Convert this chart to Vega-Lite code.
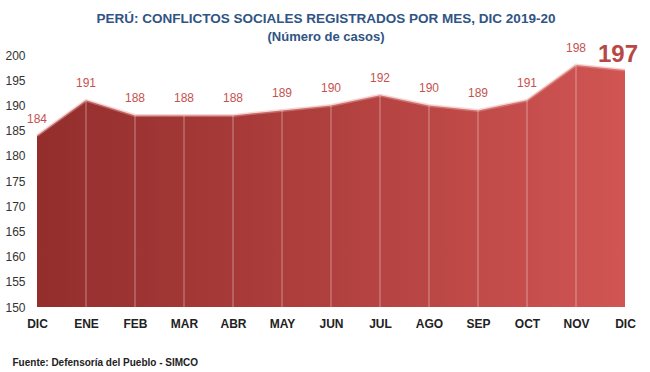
{
  "$schema": "https://vega.github.io/schema/vega-lite/v6.json",
  "width": 588,
  "height": 252,
  "autosize": {"type": "none"},
  "padding": {"left": 37, "top": 55, "right": 25, "bottom": 65},
  "background": "white",
  "config": {"view": {"stroke": null}, "font": "Liberation Sans, Arial, sans-serif"},
  "title": {
    "text": "PERÚ: CONFLICTOS SOCIALES REGISTRADOS POR MES, DIC 2019-20",
    "subtitle": "(Número de casos)",
    "anchor": "middle",
    "frame": "group",
    "font": "Liberation Sans, Arial, sans-serif",
    "subtitleFont": "Liberation Sans, Arial, sans-serif",
    "fontSize": 13.5,
    "subtitleFontSize": 13,
    "fontWeight": "bold",
    "subtitleFontWeight": "bold",
    "color": "#2F5485",
    "subtitleColor": "#2F5485",
    "offset": -2,
    "subtitlePadding": 6,
    "dx": -5
  },
  "data": {
    "values": [
      {"i": 0, "mes": "DIC", "casos": 184},
      {"i": 1, "mes": "ENE", "casos": 191},
      {"i": 2, "mes": "FEB", "casos": 188},
      {"i": 3, "mes": "MAR", "casos": 188},
      {"i": 4, "mes": "ABR", "casos": 188},
      {"i": 5, "mes": "MAY", "casos": 189},
      {"i": 6, "mes": "JUN", "casos": 190},
      {"i": 7, "mes": "JUL", "casos": 192},
      {"i": 8, "mes": "AGO", "casos": 190},
      {"i": 9, "mes": "SEP", "casos": 189},
      {"i": 10, "mes": "OCT", "casos": 191},
      {"i": 11, "mes": "NOV", "casos": 198},
      {"i": 12, "mes": "DIC", "casos": 197}
    ]
  },
  "encoding": {
    "x": {
      "field": "i",
      "type": "quantitative",
      "scale": {"domain": [0, 12], "nice": false, "zero": false},
      "axis": {
        "values": [0,1,2,3,4,5,6,7,8,9,10,11,12],
        "labelExpr": "['DIC','ENE','FEB','MAR','ABR','MAY','JUN','JUL','AGO','SEP','OCT','NOV','DIC'][datum.value]",
        "grid": false,
        "domain": false,
        "ticks": false,
        "labelPadding": 11,
        "labelFontSize": 12,
        "labelFontWeight": "bold",
        "labelColor": "#222222",
        "labelFont": "Liberation Sans, Arial, sans-serif",
        "labelFlush": false,
        "title": "Fuente: Defensoría del Pueblo - SIMCO",
        "titleAnchor": "start",
        "titleAlign": "left",
        "titleX": -25,
        "titleY": 55,
        "titleBaseline": "middle",
        "titleFontSize": 10,
        "titleFontWeight": "bold",
        "titleColor": "#222222",
        "titleFont": "Liberation Sans, Arial, sans-serif"
      }
    },
    "y": {
      "field": "casos",
      "type": "quantitative",
      "scale": {"domain": [150, 200], "nice": false, "zero": false},
      "axis": {
        "values": [150,155,160,165,170,175,180,185,190,195,200],
        "grid": false,
        "domain": false,
        "ticks": false,
        "labelPadding": 12,
        "labelFontSize": 12,
        "labelColor": "#333333",
        "labelFont": "Liberation Sans, Arial, sans-serif",
        "title": null
      }
    }
  },
  "layer": [
    {
      "mark": {
        "type": "area",
        "color": {
          "gradient": "linear",
          "x1": 0, "x2": 1, "y1": 0, "y2": 0,
          "stops": [
            {"offset": 0, "color": "#932E2D"},
            {"offset": 0.5, "color": "#B0403E"},
            {"offset": 1, "color": "#D05553"}
          ]
        }
      },
      "encoding": {"y2": {"datum": 150}}
    },
    {
      "mark": {"type": "line", "color": "#E9A3A2", "strokeWidth": 3, "opacity": 0.45},
      "encoding": {}
    },
    {
      "transform": [{"filter": "datum.i > 0 && datum.i < 12"}],
      "mark": {"type": "rule", "color": "#FFFFFF", "opacity": 0.35, "strokeWidth": 1.2},
      "encoding": {"y2": {"datum": 150}}
    },
    {
      "transform": [{"filter": "datum.i < 12"}],
      "mark": {"type": "text", "dy": -17, "baseline": "middle", "fontSize": 12, "color": "#C65250", "font": "Liberation Sans, Arial, sans-serif"},
      "encoding": {"text": {"field": "casos"}}
    },
    {
      "transform": [{"filter": "datum.i == 12"}],
      "mark": {"type": "text", "dy": -15, "dx": -7, "baseline": "middle", "fontSize": 24, "fontWeight": "bold", "color": "#B84846", "font": "Liberation Sans, Arial, sans-serif"},
      "encoding": {"text": {"field": "casos"}}
    }
  ]
}
